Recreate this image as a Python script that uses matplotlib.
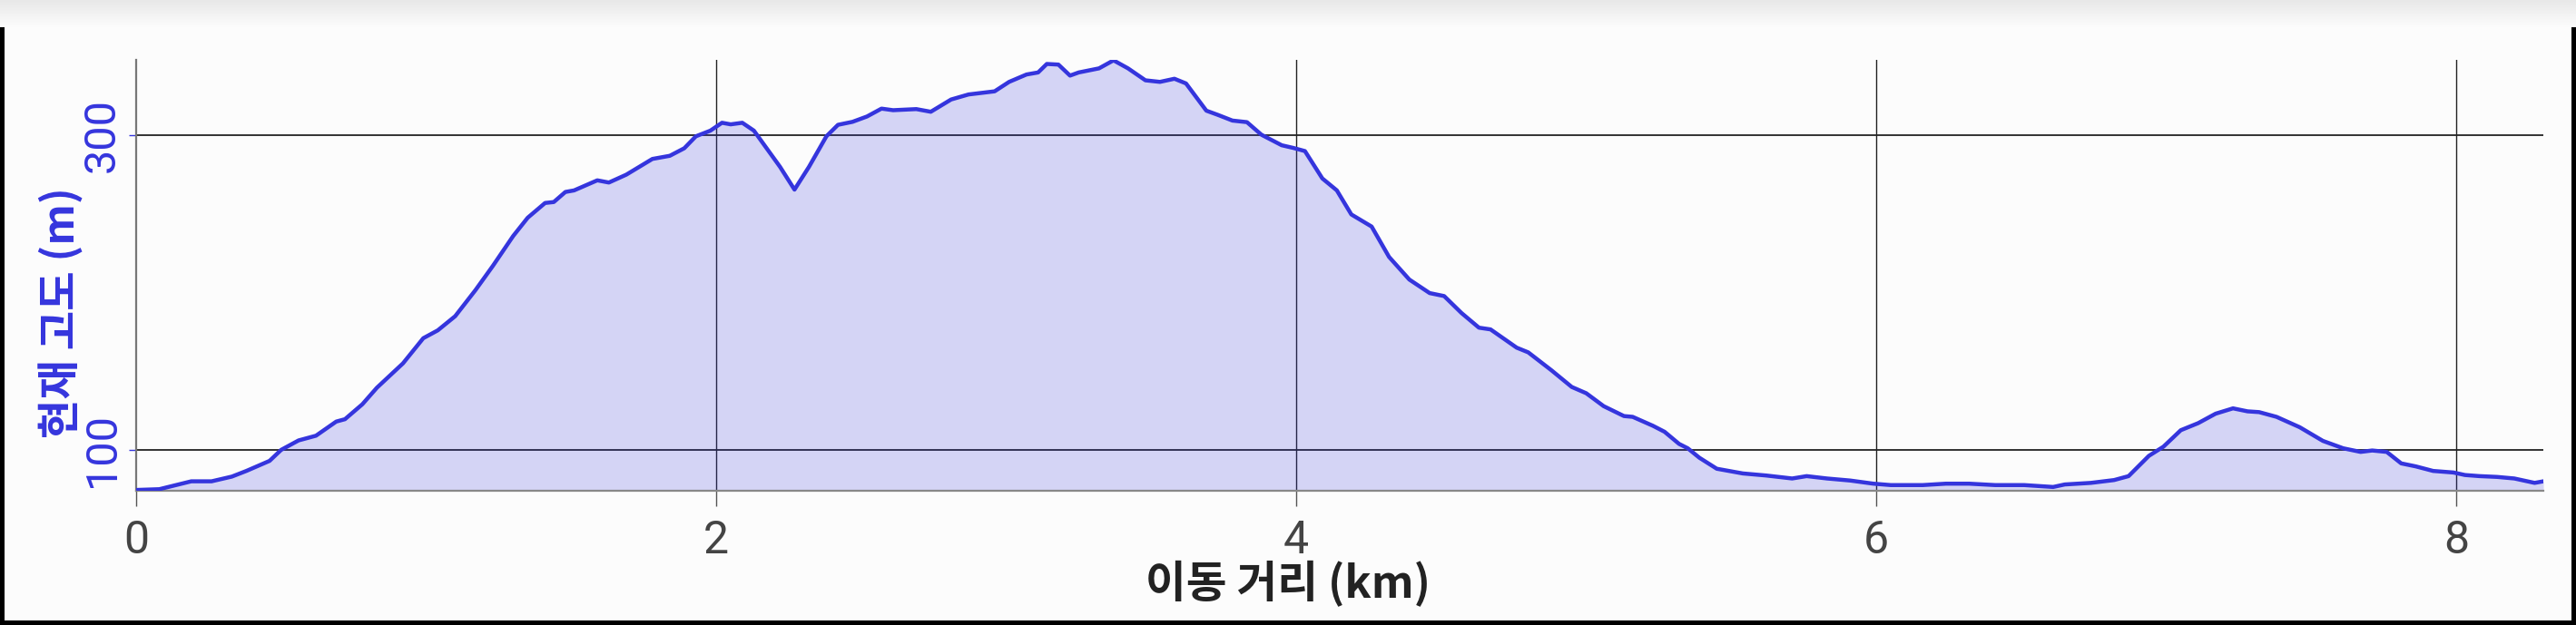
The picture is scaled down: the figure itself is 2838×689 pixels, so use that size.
import numpy as np
import matplotlib.pyplot as plt

# elevation profile
distance_km = [0.00, 0.08, 0.19, 0.26, 0.33, 0.38, 0.46, 0.50, 0.56, 0.62,
               0.69, 0.72, 0.78, 0.83, 0.92, 0.99, 1.04, 1.10, 1.17, 1.23,
               1.30, 1.35, 1.41, 1.44, 1.48, 1.51, 1.59, 1.63, 1.69, 1.78,
               1.84, 1.89, 1.93, 1.98, 2.02, 2.05, 2.09, 2.13, 2.22, 2.27,
               2.32, 2.38, 2.42, 2.47, 2.52, 2.57, 2.61, 2.69, 2.74, 2.81,
               2.87, 2.96, 3.01, 3.07, 3.11, 3.14, 3.18, 3.22, 3.25, 3.32,
               3.37, 3.42, 3.48, 3.53, 3.58, 3.62, 3.69, 3.73, 3.78, 3.83,
               3.88, 3.95, 3.99, 4.03, 4.09, 4.14, 4.19, 4.26, 4.32, 4.39,
               4.46, 4.51, 4.57, 4.63, 4.67, 4.76, 4.80, 4.88, 4.95, 5.00,
               5.06, 5.13, 5.16, 5.23, 5.27, 5.32, 5.35, 5.39, 5.45, 5.54,
               5.62, 5.71, 5.76, 5.83, 5.91, 5.99, 6.05, 6.16, 6.24, 6.32,
               6.41, 6.51, 6.61, 6.65, 6.74, 6.82, 6.87, 6.94, 6.99, 7.05,
               7.11, 7.17, 7.23, 7.28, 7.32, 7.38, 7.46, 7.54, 7.61, 7.67,
               7.71, 7.76, 7.81, 7.86, 7.92, 7.99, 8.03, 8.08, 8.14, 8.20,
               8.27, 8.30]
elevation_m = [74.5, 75.0, 80.0, 80.0, 83.0, 86.6, 93.0, 100.0, 106.0, 109.0,
               118.0, 119.5, 129.0, 139.5, 155.0, 171.0, 176.0, 185.0, 201.6, 217.0,
               236.0, 247.6, 257.0, 257.6, 264.0, 265.0, 271.4, 270.0, 275.0, 285.0,
               287.0, 291.8, 299.4, 303.0, 308.0, 307.0, 308.0, 303.0, 280.0, 265.5,
               280.0, 299.4, 306.7, 308.6, 312.0, 317.0, 316.0, 316.7, 315.0, 322.8,
               326.0, 328.0, 334.0, 338.7, 340.0, 345.4, 345.0, 338.0, 340.0, 342.6,
               347.7, 342.6, 335.0, 334.0, 336.0, 333.0, 315.7, 313.0, 309.4, 308.4,
               300.4, 293.7, 292.0, 290.0, 272.6, 265.0, 249.7, 242.0, 222.7, 208.3,
               199.7, 197.8, 187.0, 177.7, 176.6, 165.0, 162.0, 150.6, 140.0, 136.0,
               127.8, 121.5, 121.0, 115.3, 111.5, 103.8, 101.0, 95.0, 88.0, 85.0,
               83.7, 81.8, 83.3, 81.8, 80.5, 78.5, 77.6, 77.6, 78.5, 78.5,
               77.6, 77.6, 76.4, 78.0, 79.0, 80.8, 83.3, 96.2, 102.0, 112.5,
               117.0, 123.0, 126.4, 124.5, 124.0, 121.0, 114.4, 105.7, 101.0, 98.7,
               99.6, 98.7, 91.4, 89.5, 86.6, 85.6, 84.0, 83.3, 82.8, 81.8,
               79.0, 80.0]
x_ticks = [0, 2, 4, 6, 8]
y_ticks = [100, 300]

line_color = '#3535dd'
bg = '#fcfcfc'

plt.rcParams['font.family'] = ['Roboto', 'Noto Sans CJK KR', 'DejaVu Sans']

fig = plt.figure(figsize=(28.38, 6.89), dpi=100)
fig.patch.set_facecolor(bg)
fig.patch.set_edgecolor('black')
fig.patch.set_linewidth(6)

# light shadow band across the top
shade = fig.add_axes([0, 1 - 30 / 689, 1, 30 / 689])
grad = np.linspace(0.91, 0.988, 50).reshape(-1, 1)
shade.imshow(np.dstack([grad, grad, grad]), aspect='auto', extent=[0, 1, 0, 1])
shade.axis('off')

ax = fig.add_axes([150 / 2838, 1 - 541 / 689, (2802 - 150) / 2838, (541 - 66) / 689])
ax.set_facecolor(bg)

ax.set_xlim(0, 8.30)
ax.set_ylim(74, 348)

for v in y_ticks:
    ax.axhline(v, color='#222222', lw=1.3, zorder=1)
for v in x_ticks[1:]:
    ax.axvline(v, color='#222222', lw=1.0, zorder=1)

ax.fill_between(distance_km, elevation_m, 74, color=line_color, alpha=0.2, lw=0, zorder=2)
ax.plot(distance_km, elevation_m, color=line_color, lw=3.2, zorder=3,
        solid_joinstyle='round')

for s in ['top', 'right']:
    ax.spines[s].set_visible(False)
ax.spines['left'].set_color('#777777')
ax.spines['left'].set_linewidth(1.6)
ax.spines['bottom'].set_color('#888888')
ax.spines['bottom'].set_linewidth(1.6)

ax.set_xticks(x_ticks)
ax.set_xticklabels([str(v) for v in x_ticks])
ax.tick_params(axis='x', direction='out', length=12, width=1.0, color='#555555',
               pad=10, labelsize=36, labelcolor='#444444')
ax.set_yticks(y_ticks)
ax.set_yticklabels([str(v) for v in y_ticks], rotation=90, va='center')
ax.tick_params(axis='y', direction='out', length=6, width=1.0, color=line_color,
               pad=4, labelsize=35, labelcolor=line_color)

fig.text(0.5, 1 - 644 / 689, '이동 거리 (km)', ha='center', va='center',
         fontsize=35, fontweight='bold', color='#222222',
         family=['Noto Sans CJK KR', 'DejaVu Sans'])
fig.text(68 / 2838, 0.5, '현재 고도 (m)', ha='center', va='center', rotation=90,
         fontsize=34, fontweight='bold', color=line_color,
         family=['Noto Sans CJK KR', 'DejaVu Sans'])

fig.savefig('out.png', dpi=100, facecolor=fig.get_facecolor(), edgecolor=fig.get_edgecolor())
